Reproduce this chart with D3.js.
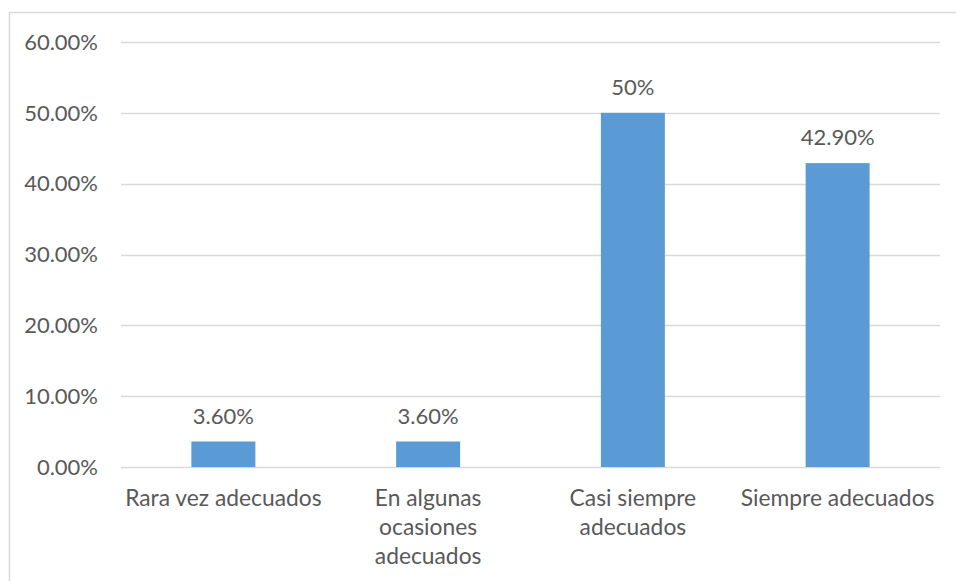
<!DOCTYPE html>
<html>
<head>
<meta charset="utf-8">
<script src="https://cdn.jsdelivr.net/npm/d3@7"></script>
<style>
  body { margin: 0; background: #fff; }
  text { font-family: Lato, "Open Sans", sans-serif; fill: #595959; }
</style>
</head>
<body>
<div id="chart"></div>
<script>
// data
const categories = ['Rara vez adecuados', 'En algunas ocasiones adecuados', 'Casi siempre adecuados', 'Siempre adecuados'];
const categoryLines = [['Rara vez adecuados'], ['En algunas', 'ocasiones', 'adecuados'], ['Casi siempre', 'adecuados'], ['Siempre adecuados']];
const values = [0.036, 0.036, 0.50, 0.429];
const valueLabels = ['3.60%', '3.60%', '50%', '42.90%'];
const yTicks = [0, 0.1, 0.2, 0.3, 0.4, 0.5, 0.6];

const width = 956, height = 581;
const margin = {top: 42, right: 16, bottom: 114, left: 121};
const barColor = '#5b9bd5';
const gridColor = '#d9d9d9';

const svg = d3.select('#chart')
  .append('svg')
    .attr('width', width)
    .attr('height', height);

// chart area border (top + left visible)
svg.append('path')
  .attr('d', `M9.5,${height} V12.5 H${width}`)
  .attr('fill', 'none')
  .attr('stroke', '#d9d9d9')
  .attr('stroke-width', 1.5);

const x = d3.scaleBand()
  .domain(categories)
  .range([margin.left, width - margin.right])
  .paddingInner(0.6875)
  .paddingOuter(0.34375);

const y = d3.scaleLinear()
  .domain([0, 0.6])
  .range([height - margin.bottom, margin.top]);

// gridlines
svg.append('g')
  .selectAll('line')
  .data(yTicks)
  .join('line')
    .attr('x1', margin.left)
    .attr('x2', width - margin.right)
    .attr('y1', d => Math.round(y(d)) + 0.5)
    .attr('y2', d => Math.round(y(d)) + 0.5)
    .attr('stroke', gridColor)
    .attr('stroke-width', 1.5);

// y tick labels
svg.append('g')
  .selectAll('text')
  .data(yTicks)
  .join('text')
    .attr('x', 98)
    .attr('y', d => y(d))
    .attr('dy', '0.35em')
    .attr('text-anchor', 'end')
    .attr('font-size', 22)
    .text(d => d3.format('.2%')(d));

// bars
svg.append('g')
  .selectAll('rect')
  .data(values)
  .join('rect')
    .attr('x', (d, i) => x(categories[i]))
    .attr('width', x.bandwidth())
    .attr('y', d => y(d))
    .attr('height', d => y(0) - y(d))
    .attr('fill', barColor);

// value labels
svg.append('g')
  .selectAll('text')
  .data(values)
  .join('text')
    .attr('x', (d, i) => x(categories[i]) + x.bandwidth() / 2)
    .attr('y', d => y(d) - 18)
    .attr('text-anchor', 'middle')
    .attr('font-size', 22)
    .text((d, i) => valueLabels[i]);

// category labels
const cat = svg.append('g')
  .selectAll('text')
  .data(categories)
  .join('text')
    .attr('x', d => x(d) + x.bandwidth() / 2)
    .attr('y', 506)
    .attr('text-anchor', 'middle')
    .attr('font-size', 22.8);

cat.selectAll('tspan')
  .data((d, i) => categoryLines[i])
  .join('tspan')
    .attr('x', function() { return this.parentNode.getAttribute('x'); })
    .attr('dy', (d, j) => j === 0 ? 0 : 29)
    .text(d => d);
</script>
</body>
</html>
